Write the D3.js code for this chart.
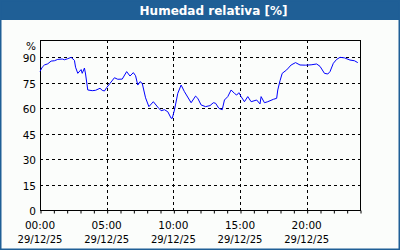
<!DOCTYPE html>
<html>
<head>
<meta charset="utf-8">
<script src="https://cdn.jsdelivr.net/npm/d3@7"></script>
<style>
  html, body { margin: 0; padding: 0; background: #fff; }
  svg text { font-family: "DejaVu Sans", Verdana, sans-serif; }
</style>
</head>
<body>
<div id="chart"></div>
<script>
// humidity readings, 29/12/25
const times = ["00:00","00:10","00:20","00:35","00:50","01:05","01:20","01:40","01:50","02:05",
  "02:20","02:35","02:40","02:50","03:05","03:10","03:20","03:25","03:35","03:55",
  "04:10","04:30","04:40","04:50","05:00","05:15","05:35","05:50","06:10","06:30",
  "06:45","07:00","07:10","07:20","07:30","07:40","07:55","08:10","08:30","08:50",
  "09:05","09:20","09:35","09:50","09:55","10:05","10:20","10:35","10:50","11:20",
  "11:40","11:50","12:05","12:25","12:45","13:00","13:10","13:25","13:40","13:50",
  "14:05","14:20","14:35","14:45","14:55","15:05","15:20","15:35","15:50","16:15",
  "16:30","16:35","16:50","17:05","17:30","17:45","17:50","18:00","18:10","18:30",
  "18:50","19:10","19:30","19:55","20:20","20:45","21:00","21:20","21:35","21:45",
  "22:00","22:15","22:30","22:50","23:15","23:35","23:50"];
const humidity = [81.5,84,85.3,86,87.6,87.8,88.6,88.8,88.4,89,
  89.8,88,84,80.4,82.6,80.4,83.5,80,70.6,70.2,
  70.4,71.6,70.4,70,72,74.5,77.8,76.9,77,81.4,
  78.8,80.8,79,73.5,75.5,74.5,66,60.8,63.7,60.5,
  58.4,59,57.8,54,53.9,58.8,68.6,73.5,69.6,63.1,
  67,65.7,61.8,60.8,61.4,63.1,62.8,59.8,59,64.7,
  66.7,70.6,68.6,67.6,69,66.7,63.7,66.7,63.7,64.7,
  62.4,66.7,63.1,63.7,65.1,65.7,70.6,76,80.4,82.4,
  85.3,86.7,85.3,85.2,85.4,85.9,84.5,80.4,80,81.4,
  86.3,88.6,89.8,89.5,88.2,87.8,86.7];
const yTicks = [0, 15, 30, 45, 60, 75, 90];
const xTickHours = [0, 5, 10, 15, 20];
const dayLabel = "29/12/25";
const title = "Humedad relativa [%]";

const day = new Date(2025, 11, 29);
const parseT = s => {
  const [h, m] = s.split(":").map(Number);
  return new Date(2025, 11, 29, h, m);
};
const data = times.map((t, i) => ({ date: parseT(t), value: humidity[i] }));

const width = 400, height = 250;
const margin = { top: 40, right: 40, bottom: 40, left: 40 };

const svg = d3.select("#chart").append("svg")
  .attr("width", width)
  .attr("height", height);

svg.append("rect").attr("width", width).attr("height", height).attr("fill", "#fbfdfb");

// title bar
svg.append("rect").attr("x", 0).attr("y", 0).attr("width", width).attr("height", 20)
  .attr("fill", "#1f5f96");
svg.append("text")
  .attr("x", 213.5).attr("y", 15)
  .attr("text-anchor", "middle")
  .attr("fill", "#fff")
  .attr("font-weight", "bold")
  .attr("font-size", "12px")
  .text(title);

// outer frame
svg.append("rect").attr("x", 0.75).attr("y", 0.75).attr("width", width - 1.5).attr("height", height - 1.5)
  .attr("fill", "none").attr("stroke", "#1f5f96").attr("stroke-width", 1.5);

const xScale = d3.scaleTime()
  .domain([day, d3.timeHour.offset(day, 24)])
  .range([margin.left, width - margin.right]);
const yScale = d3.scaleLinear()
  .domain([0, 100])
  .range([height - margin.bottom, margin.top]);

// grid
const grid = svg.append("g").attr("stroke", "#000").attr("stroke-dasharray", "3,3").attr("shape-rendering", "crispEdges");
grid.selectAll("line.h").data(yTicks.filter(d => d > 0)).enter().append("line")
  .attr("x1", margin.left).attr("x2", width - margin.right)
  .attr("y1", d => Math.round(yScale(d)) + 0.5).attr("y2", d => Math.round(yScale(d)) + 0.5);
grid.selectAll("line.v").data(xTickHours.filter(d => d > 0)).enter().append("line")
  .attr("x1", d => Math.round(xScale(d3.timeHour.offset(day, d))) + 0.5)
  .attr("x2", d => Math.round(xScale(d3.timeHour.offset(day, d))) + 0.5)
  .attr("y1", margin.top).attr("y2", height - margin.bottom);

// hourly ticks below the x axis
const xAxis = d3.axisBottom(xScale)
  .ticks(d3.timeHour.every(1))
  .tickSize(3)
  .tickFormat("");
const gx = svg.append("g")
  .attr("transform", `translate(0.5,${height - margin.bottom + 0.5})`)
  .call(xAxis);
gx.select(".domain").remove();
gx.selectAll("line").attr("stroke", "#000");

// plot frame
svg.append("rect")
  .attr("x", margin.left + 0.5).attr("y", margin.top + 0.5)
  .attr("width", width - margin.left - margin.right).attr("height", height - margin.top - margin.bottom)
  .attr("fill", "none").attr("stroke", "#000").attr("shape-rendering", "crispEdges");

// y labels
svg.append("g").selectAll("text").data(yTicks).enter().append("text")
  .attr("x", 36).attr("y", d => yScale(d) + 5)
  .attr("text-anchor", "end").attr("font-size", "10.5px").attr("fill", "#000")
  .text(d => d);
svg.append("text").attr("x", 36).attr("y", 49.5)
  .attr("text-anchor", "end").attr("font-size", "10.5px").text("%");

// x labels
const xl = svg.append("g").selectAll("g").data(xTickHours).enter().append("g")
  .attr("transform", d => `translate(${xScale(d3.timeHour.offset(day, d))},0)`);
xl.append("text").attr("y", 229).attr("text-anchor", "middle").attr("font-size", "10.5px")
  .text(d => d3.timeFormat("%H:%M")(d3.timeHour.offset(day, d)));
xl.append("text").attr("y", 243).attr("text-anchor", "middle").attr("font-size", "10px")
  .text(dayLabel);

// humidity line
const line = d3.line()
  .x(d => xScale(d.date))
  .y(d => yScale(d.value));
svg.append("path")
  .datum(data)
  .attr("d", line)
  .attr("fill", "none")
  .attr("stroke", "#0000ff")
  .attr("stroke-width", 1);
</script>
</body>
</html>
